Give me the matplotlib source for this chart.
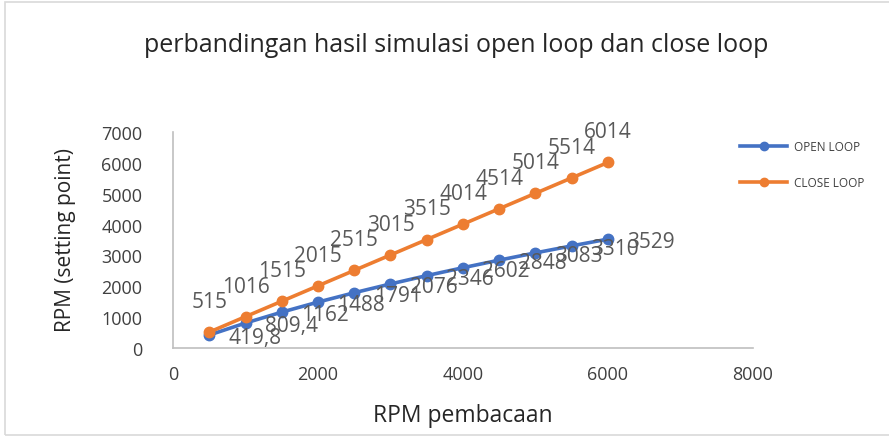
import matplotlib

matplotlib.use("Agg")

import matplotlib.pyplot as plt
from matplotlib.patches import Rectangle

plt.rcParams["font.family"] = ["Open Sans", "DejaVu Sans"]

# RPM pembacaan (x) and the two simulated series
rpm = [500, 1000, 1500, 2000, 2500, 3000, 3500, 4000, 4500, 5000, 5500, 6000]
open_loop = [419.8, 809.4, 1162, 1488, 1791, 2076, 2346, 2602, 2848, 3083, 3310, 3529]
close_loop = [515, 1016, 1515, 2015, 2515, 3015, 3515, 4014, 4514, 5014, 5514, 6014]
open_labels = ["419,8", "809,4", "1162", "1488", "1791", "2076", "2346",
               "2602", "2848", "3083", "3310", "3529"]
close_labels = [str(v) for v in close_loop]

BLUE = "#4472C4"
ORANGE = "#ED7D31"
AXIS = "#BFBFBF"
TXT = "#595959"

W, H = 889, 439
fig = plt.figure(figsize=(W / 100, H / 100), dpi=100)
ax = fig.add_axes([173 / W, 1 - 349 / H, 580 / W, 216 / H])

# chart-area border, like the Excel frame
fig.patches.append(Rectangle((5 / W, 3 / H), 1.2, 1 - 6 / H, transform=fig.transFigure,
                             fill=False, edgecolor="#D9D9D9", linewidth=1.2))

ax.plot(rpm, open_loop, color=BLUE, linewidth=2.6, marker="o", markersize=7.5,
        label="OPEN LOOP", zorder=3)
ax.plot(rpm, close_loop, color=ORANGE, linewidth=2.6, marker="o", markersize=7.5,
        label="CLOSE LOOP", zorder=4)

for x, y, t in zip(rpm, open_loop, open_labels):
    ax.annotate(t, (x, y), xytext=(14, -2), textcoords="offset points",
                ha="left", va="center", fontsize=15, color=TXT, zorder=5)
for x, y, t in zip(rpm, close_loop, close_labels):
    ax.annotate(t, (x, y), xytext=(0, 22), textcoords="offset points",
                ha="center", va="center", fontsize=15, color=TXT, zorder=5)

ax.set_xlim(0, 8000)
ax.set_ylim(0, 7000)
ax.set_xticks([0, 2000, 4000, 6000, 8000])
ax.set_yticks(range(0, 7001, 1000))
ax.tick_params(length=0, labelsize=13, labelcolor="#404040", pad=12)
ax.tick_params(axis="y", pad=22)
for s in ("top", "right"):
    ax.spines[s].set_visible(False)
for s in ("left", "bottom"):
    ax.spines[s].set_color(AXIS)
    ax.spines[s].set_linewidth(1.2)

fig.text(65 / W, 1 - 240 / H, "RPM (setting point)", rotation=90, ha="center",
         va="center", fontsize=15, color="#262626")
fig.text(463 / W, 1 - 416 / H, "RPM pembacaan", ha="center", va="center",
         fontsize=16.5, color="#262626")
fig.text(456 / W, 1 - 45 / H, "perbandingan hasil simulasi open loop dan close loop",
         ha="center", va="center", fontsize=18, color="#262626")

fig.legend(loc="center left", bbox_to_anchor=(740 / W, 1 - 165.5 / H), frameon=False,
           fontsize=8.5, handlelength=4, handletextpad=0.55, labelspacing=1.9,
           borderpad=0, borderaxespad=0, markerscale=0.8, labelcolor="#404040")

fig.savefig("out.png", dpi=100)
